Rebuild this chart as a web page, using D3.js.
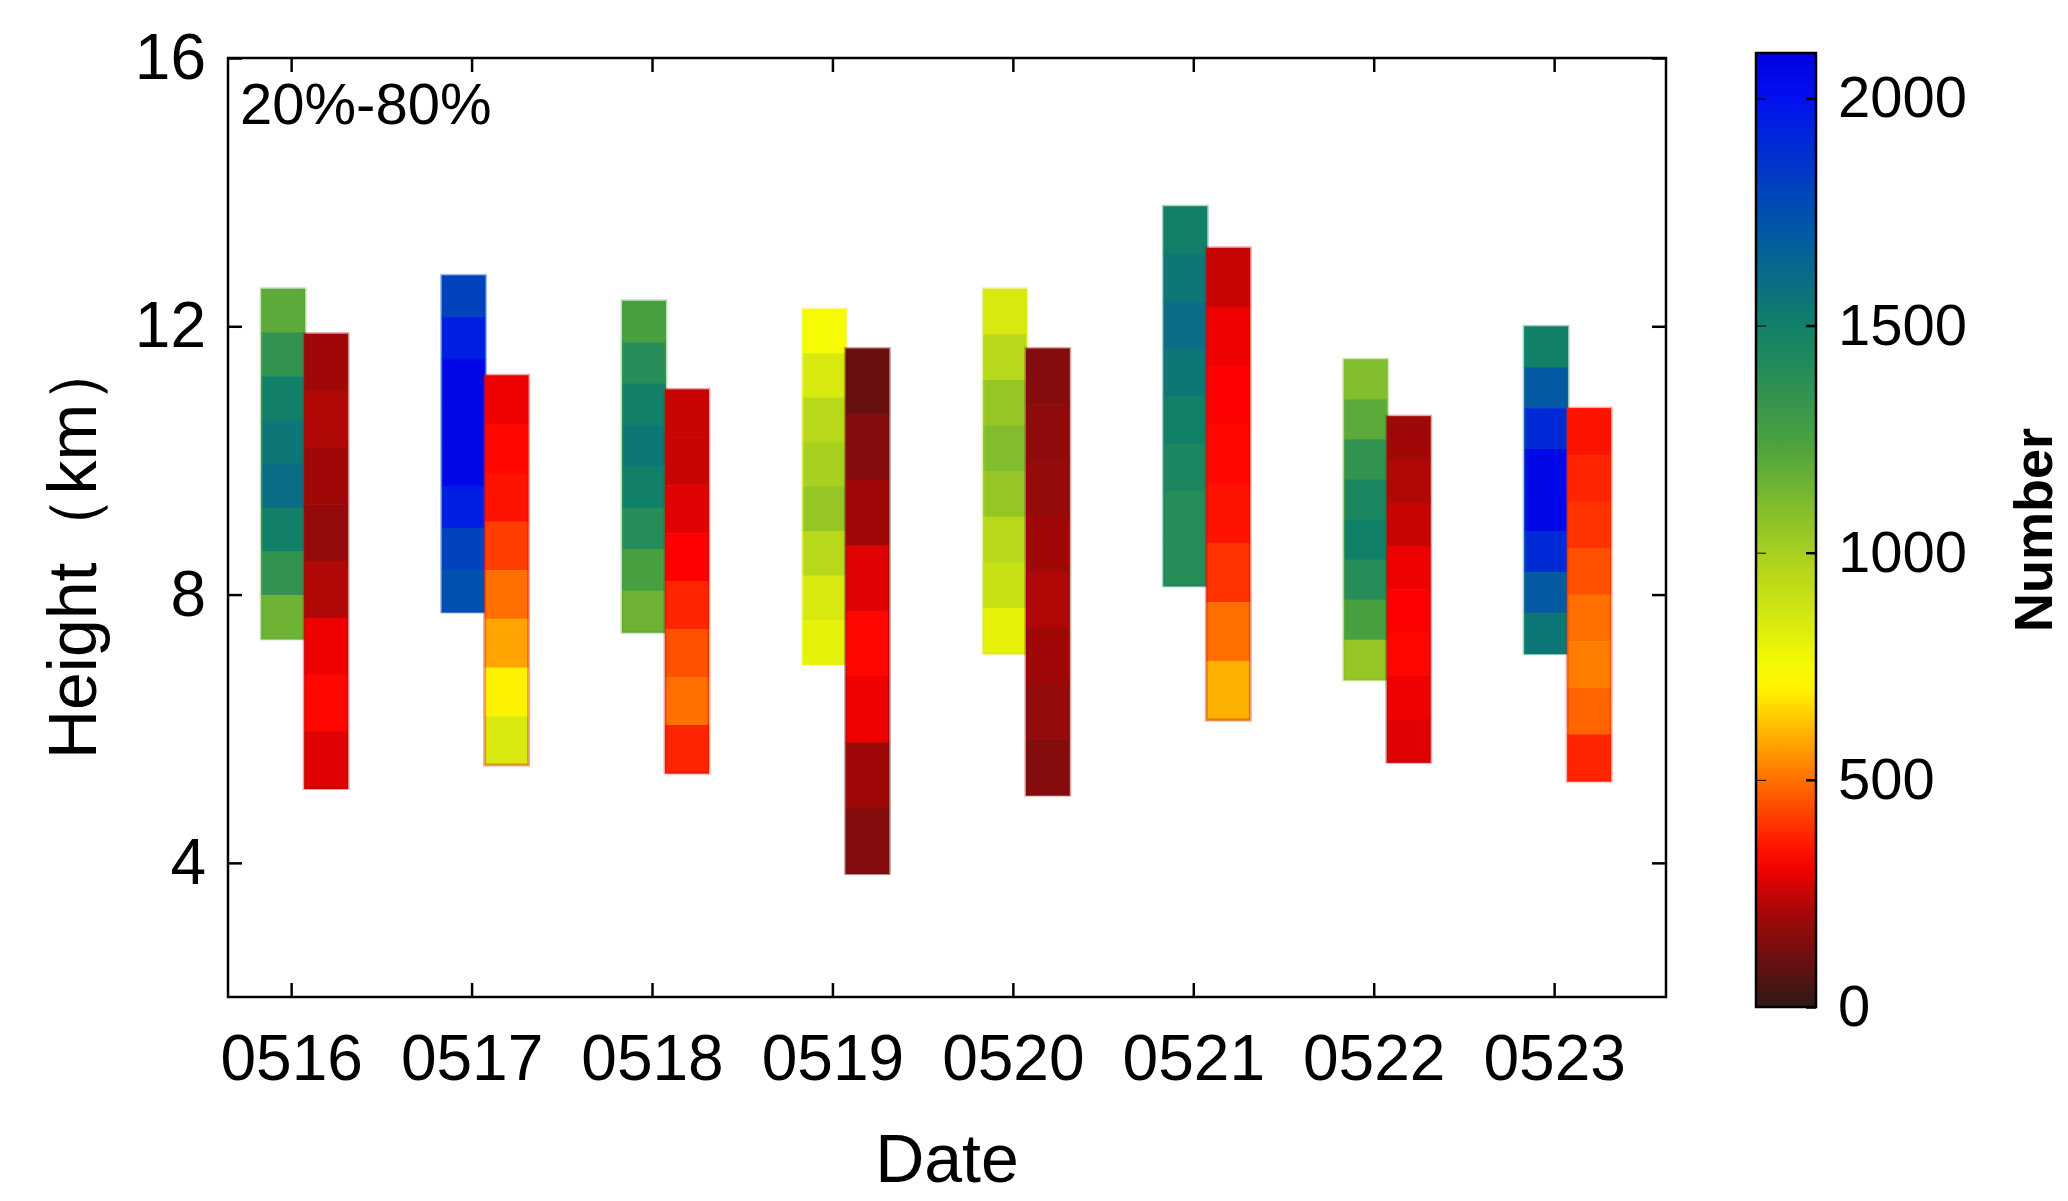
<!DOCTYPE html><html><head><meta charset="utf-8">
<script src="https://cdn.jsdelivr.net/npm/d3@7"></script>
<style>body{margin:0;background:#fff}text{font-family:"Liberation Sans",Arial,sans-serif}</style></head><body>
<svg id="c" width="2068" height="1201"></svg>
<script>
const dates=["0516","0517","0518","0519","0520","0521","0522","0523"];
const leftTop=[12.56,12.76,12.38,12.26,12.56,13.79,11.51,12.0];
const leftBottom=[7.34,7.74,7.44,6.96,7.12,8.13,6.73,7.12];
const rightTop=[11.89,11.27,11.06,11.67,11.67,13.17,10.66,10.78];
const rightBottom=[5.11,5.46,5.34,3.84,5.01,6.13,5.50,5.22];
const leftNumbers=[
[1200,1350,1500,1550,1600,1500,1350,1150],
[1800,1950,2050,2050,2050,1950,1800,1750],
[1250,1400,1500,1550,1500,1400,1250,1150],
[750,850,950,1000,1050,950,850,800],
[850,950,1050,1100,1050,950,900,800],
[1500,1550,1600,1550,1500,1450,1400,1400],
[1100,1200,1350,1450,1500,1400,1250,1050],
[1500,1700,1900,2050,2050,1900,1700,1550]];
const rightNumbers=[
[200,220,200,180,220,300,330,280],
[300,330,350,420,500,580,700,850],
[250,250,280,320,380,450,500,380],
[100,150,200,280,330,300,200,150],
[150,170,180,200,220,200,180,150],
[250,300,320,330,350,400,500,600],
[200,220,250,300,320,330,300,280],
[350,380,400,450,500,520,480,380]];
const yTicks=[4,8,12,16];
const cbTicks=[0,500,1000,1500,2000];

const svg=d3.select("#c");
const L=228,R=1666,T=58,B=997;
const x=d3.scaleLinear().domain([-0.35,7.62]).range([L,R]);
const y=d3.scaleLinear().domain([2,16]).range([B,T]);
const cmap=d3.scaleLinear().domain([0,200,320,500,720,1000,1250,1500,1750,2000,2100])
 .range(["#301818","#a00808","#ff0000","#ff7000","#ffff00","#a8d020","#48a040","#108068","#0050b0","#0010f0","#0000e0"]).clamp(true);
const bw=44, off=13;
function bar(xc,top,bot,vals){
  const n=vals.length,h=(y(bot)-y(top))/n;
  const g=svg.append("g");
  vals.forEach((v,i)=>g.append("rect").attr("x",xc).attr("y",y(top)+i*h).attr("width",bw).attr("height",h+0.6).attr("fill",cmap(v)));
  g.append("rect").attr("x",xc).attr("y",y(top)).attr("width",bw).attr("height",y(bot)-y(top)).attr("fill","none").attr("stroke",cmap(vals[0])).attr("stroke-opacity",0.35).attr("stroke-width",3);
}
dates.forEach((d,i)=>{
  bar(x(i)-30,leftTop[i],leftBottom[i],leftNumbers[i]);
  bar(x(i)+off,rightTop[i],rightBottom[i],rightNumbers[i]);
});
svg.append("rect").attr("x",L).attr("y",T).attr("width",R-L).attr("height",B-T).attr("fill","none").attr("stroke","#000").attr("stroke-width",2.5);
const ax=svg.append("g").attr("transform",`translate(0,${B})`).call(d3.axisBottom(x).tickValues(d3.range(8)).tickFormat(i=>dates[i]).tickSize(-14).tickPadding(38));
ax.select(".domain").remove();
ax.selectAll("text").attr("font-size",64);
svg.append("g").attr("transform",`translate(0,${T})`).call(d3.axisTop(x).tickValues(d3.range(8)).tickFormat("").tickSize(-14)).select(".domain").remove();
const ay=svg.append("g").attr("transform",`translate(${L},0)`).call(d3.axisLeft(y).tickValues(yTicks).tickSize(-14).tickPadding(22));
ay.select(".domain").remove();ay.selectAll("text").attr("font-size",64);
svg.append("g").attr("transform",`translate(${R},0)`).call(d3.axisRight(y).tickValues(yTicks).tickFormat("").tickSize(-14)).select(".domain").remove();
svg.selectAll(".tick line").attr("stroke-width",2.5);
svg.append("text").attr("x",240).attr("y",124).attr("font-size",58).text("20%-80%");
svg.append("text").attr("transform",`translate(96,${(T+B)/2+20}) rotate(-90)`).attr("text-anchor","middle").attr("font-size",68).text("Height（km）");
svg.append("text").attr("x",(L+R)/2).attr("y",1182).attr("text-anchor","middle").attr("font-size",68).text("Date");
// colorbar
const cx=1756,cw=60,cT=53,cB=1007;
const cy=d3.scaleLinear().domain([0,2100]).range([cB,cT]);
const defs=svg.append("defs");
const lg=defs.append("linearGradient").attr("id","cg").attr("x1",0).attr("y1",1).attr("x2",0).attr("y2",0);
d3.range(0,2101,50).forEach(v=>lg.append("stop").attr("offset",v/2100).attr("stop-color",cmap(v)));
svg.append("rect").attr("x",cx).attr("y",cT).attr("width",cw).attr("height",cB-cT).attr("fill","url(#cg)").attr("stroke","#000").attr("stroke-width",2.5);
const ac=svg.append("g").attr("transform",`translate(${cx+cw},0)`).call(d3.axisRight(cy).tickValues(cbTicks).tickFormat(d3.format("d")).tickSize(-10).tickPadding(22));
ac.select(".domain").remove();ac.selectAll("text").attr("font-size",58);ac.selectAll("line").attr("stroke-width",2.5);
svg.append("g").attr("transform",`translate(${cx},0)`).call(d3.axisLeft(cy).tickValues(cbTicks).tickFormat("").tickSize(-10)).select(".domain").remove();
svg.append("text").attr("transform",`translate(2052,${(cT+cB)/2}) rotate(-90)`).attr("text-anchor","middle").attr("font-size",54).attr("font-weight","bold").text("Number");
</script></body></html>
